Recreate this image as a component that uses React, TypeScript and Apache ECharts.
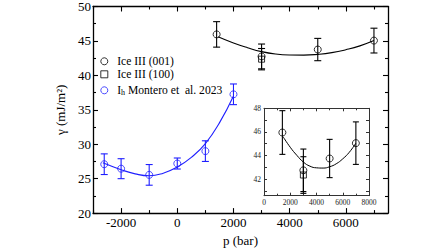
import React, { useEffect, useRef } from "react";
import * as echarts from "echarts";

// ---- data ----
const iceX = [1400, 3000, 5000, 7000];
const iceY = [45.95, 42.75, 43.75, 45.05];
const iceErr = [1.85, 1.8, 1.62, 1.8];

const ice100X = [3000];
const ice100Y = [42.35];
const ice100Err = [1.55];

const ihX = [-2600, -2000, -1000, 0, 1000, 2000];
const ihY = [27.1, 26.45, 25.55, 27.2, 29.0, 37.25];
const ihErr = [1.5, 1.45, 1.5, 0.8, 1.5, 1.5];

const iceFitX = [1450, 2000, 2500, 3000, 3500, 4000, 4500, 5000, 5500, 6000, 6500, 7000];
const iceFitY = [45.6, 44.7, 44.02, 43.45, 43.1, 42.96, 42.94, 43.05, 43.3, 43.72, 44.28, 45.05];

const ihFitX = [-2650, -2000, -1500, -1000, -500, 0, 500, 1000, 1500, 2000];
const ihFitY = [27.3, 26.3, 25.7, 25.42, 25.8, 26.7, 28.1, 30.1, 33.1, 37.0];

const mainXLabels = [-2000, 0, 2000, 4000, 6000];
const mainXMinor = [-3000, -1000, 1000, 3000, 5000, 7000];
const insetYLabels = [42, 44, 46, 48];
const insetYTicks = [41, 42, 43, 44, 45, 46, 47, 48];

const NAME_001 = "Ice III (001)";
const NAME_100 = "Ice III (100)";
const NAME_IH = "Ih Montero et  al. 2023";

const BLUE = "#1f1fff";
const FONT = "'Liberation Serif', 'Times New Roman', serif";
const CLEAR = "rgba(255,255,255,0)";

const pairs = (xs: number[], ys: number[]) => xs.map((x, i) => [x, ys[i]]);
const errs = (xs: number[], ys: number[], es: number[]) =>
  xs.map((x, i) => [x, ys[i] - es[i], ys[i] + es[i]]);
const plain = (v: number) => String(v);

function errorSeries(data: number[][], color: string, cap: number, xi: number, yi: number) {
  return {
    type: "custom",
    xAxisIndex: xi,
    yAxisIndex: yi,
    silent: true,
    z: 2,
    data,
    encode: { x: 0, y: [1, 2] },
    renderItem: (_p: any, api: any) => {
      const x = api.value(0);
      const lo = api.coord([x, api.value(1)]);
      const hi = api.coord([x, api.value(2)]);
      const st = { stroke: color, lineWidth: 1.1 };
      return {
        type: "group",
        children: [
          { type: "line", shape: { x1: lo[0], y1: lo[1], x2: hi[0], y2: hi[1] }, style: st },
          { type: "line", shape: { x1: lo[0] - cap, y1: lo[1], x2: lo[0] + cap, y2: lo[1] }, style: st },
          { type: "line", shape: { x1: hi[0] - cap, y1: hi[1], x2: hi[0] + cap, y2: hi[1] }, style: st },
        ],
      };
    },
  };
}

const hollow = (c: string, w = 1) => ({ color: CLEAR, borderColor: c, borderWidth: w });

export default function App() {
  const ref = useRef<HTMLDivElement>(null);
  useEffect(() => {
    if (!ref.current) return;
    const chart = echarts.init(ref.current, undefined, { renderer: "svg" });
    const axisLine = { show: true, onZero: false, lineStyle: { color: "#000", width: 1.3 } };
    const insetLine = { show: true, onZero: false, lineStyle: { color: "#333", width: 1 } };
    const noLabel = { show: false };
    const mainLabel = { color: "#000", fontFamily: FONT, fontSize: 13 };
    const insetLabel = { color: "#222", fontFamily: FONT, fontSize: 7.5 };
    const tk = { color: "#000", width: 1.1 };

    const option: any = {
      animation: false,
      textStyle: { fontFamily: FONT },
      grid: [
        { left: 93, top: 5, width: 295, height: 221 },
        { left: 264, top: 108.3, width: 105, height: 87.4, show: true, backgroundColor: "#fff", borderWidth: 0 },
      ],
      legend: {
        orient: "vertical",
        left: 100.3,
        top: 54.8,
        padding: 0,
        itemWidth: 7,
        itemHeight: 7,
        itemGap: 0,
        data: [
          { name: NAME_001, icon: "circle", itemStyle: hollow("#000", 1) },
          { name: NAME_100, icon: "rect", itemStyle: hollow("#000", 1) },
          { name: NAME_IH, icon: "circle", itemStyle: hollow(BLUE, 1) },
        ],
        textStyle: {
          fontFamily: FONT, fontSize: 11.6, color: "#000", lineHeight: 13, padding: [0, 0, 0, 4.4],
          rich: {
            n: { fontFamily: FONT, fontSize: 11.6, color: "#000", lineHeight: 13 },
            s: { fontFamily: FONT, fontSize: 8, color: "#000", lineHeight: 8, padding: [8, 0, 0, 0], verticalAlign: "bottom" },
          },
        },
        formatter: (name: string) =>
          name === NAME_IH ? "{n|I}{s|h}{n| Montero et  al. 2023}" : name,
      },
      xAxis: [
        {
          gridIndex: 0, type: "value", position: "bottom", min: -3000, max: 7500,
          axisLine,
          axisTick: { show: true, inside: true, length: 5, customValues: mainXLabels, lineStyle: tk },
          axisLabel: { ...mainLabel, margin: 3, customValues: mainXLabels, formatter: plain },
          splitLine: { show: false },
          name: "p (bar)", nameLocation: "middle", nameGap: 10,
          nameTextStyle: { ...mainLabel },
        },
        {
          gridIndex: 0, type: "value", position: "bottom", min: -3000, max: 7500,
          axisLine: { show: false, onZero: false },
          axisTick: { show: true, inside: true, length: 3, customValues: mainXMinor, lineStyle: tk },
          axisLabel: noLabel, splitLine: { show: false },
        },
        {
          gridIndex: 0, type: "value", position: "top", min: -3000, max: 7500,
          axisLine,
          axisTick: { show: true, inside: true, length: 5, customValues: mainXLabels, lineStyle: tk },
          axisLabel: noLabel, splitLine: { show: false },
        },
        {
          gridIndex: 0, type: "value", position: "top", min: -3000, max: 7500,
          axisLine: { show: false, onZero: false },
          axisTick: { show: true, inside: true, length: 3, customValues: mainXMinor, lineStyle: tk },
          axisLabel: noLabel, splitLine: { show: false },
        },
        {
          gridIndex: 1, type: "value", position: "bottom", min: 0, max: 8000, interval: 2000,
          axisLine: insetLine,
          axisTick: { show: true, inside: true, length: 3, lineStyle: { color: "#333" } },
          minorTick: { show: true, splitNumber: 2, length: 2, lineStyle: { color: "#333" } },
          axisLabel: { ...insetLabel, margin: 3, formatter: plain },
          splitLine: { show: false },
        },
        {
          gridIndex: 1, type: "value", position: "top", min: 0, max: 8000, interval: 2000,
          axisLine: insetLine,
          axisTick: { show: true, inside: true, length: 3, lineStyle: { color: "#333" } },
          minorTick: { show: true, splitNumber: 2, length: 2, lineStyle: { color: "#333" } },
          axisLabel: noLabel, splitLine: { show: false },
        },
      ],
      yAxis: [
        {
          gridIndex: 0, type: "value", position: "left", min: 20, max: 50, interval: 5,
          axisLine,
          axisTick: { show: true, inside: true, length: 5, lineStyle: tk },
          minorTick: { show: true, splitNumber: 2, length: 3, lineStyle: tk },
          axisLabel: { ...mainLabel, margin: 2, formatter: plain },
          splitLine: { show: false },
          name: "γ (mJ/m²)", nameLocation: "middle", nameGap: 18,
          nameTextStyle: { ...mainLabel },
        },
        {
          gridIndex: 0, type: "value", position: "right", min: 20, max: 50, interval: 5,
          axisLine,
          axisTick: { show: true, inside: true, length: 5, lineStyle: tk },
          minorTick: { show: true, splitNumber: 2, length: 3, lineStyle: tk },
          axisLabel: noLabel, splitLine: { show: false },
        },
        {
          gridIndex: 1, type: "value", position: "left", min: 40.6, max: 48,
          axisLine: insetLine,
          axisTick: { show: true, inside: true, length: 3, customValues: insetYTicks, lineStyle: { color: "#333" } },
          axisLabel: { ...insetLabel, margin: 3, customValues: insetYLabels, formatter: plain },
          splitLine: { show: false },
        },
        {
          gridIndex: 1, type: "value", position: "right", min: 40.6, max: 48,
          axisLine: insetLine,
          axisTick: { show: true, inside: true, length: 3, customValues: insetYTicks, lineStyle: { color: "#333" } },
          axisLabel: noLabel, splitLine: { show: false },
        },
      ],
      series: [
        {
          type: "line", xAxisIndex: 0, yAxisIndex: 0, data: pairs(iceFitX, iceFitY),
          smooth: true, showSymbol: false, silent: true, lineStyle: { color: "#000", width: 1.1 }, z: 1,
        },
        {
          type: "line", xAxisIndex: 0, yAxisIndex: 0, data: pairs(ihFitX, ihFitY),
          smooth: true, showSymbol: false, silent: true, lineStyle: { color: BLUE, width: 1.1 }, z: 1,
        },
        errorSeries(errs(iceX, iceY, iceErr), "#000", 3.5, 0, 0),
        errorSeries(errs(ice100X, ice100Y, ice100Err), "#000", 3.5, 0, 0),
        errorSeries(errs(ihX, ihY, ihErr), BLUE, 3.5, 0, 0),
        {
          name: NAME_001, type: "scatter", xAxisIndex: 0, yAxisIndex: 0, data: pairs(iceX, iceY),
          symbol: "circle", symbolSize: 7, itemStyle: hollow("#000"), z: 3,
        },
        {
          name: NAME_100, type: "scatter", xAxisIndex: 0, yAxisIndex: 0, data: pairs(ice100X, ice100Y),
          symbol: "rect", symbolSize: 6, itemStyle: hollow("#000"), z: 3,
        },
        {
          name: NAME_IH, type: "scatter", xAxisIndex: 0, yAxisIndex: 0, data: pairs(ihX, ihY),
          symbol: "circle", symbolSize: 7, itemStyle: hollow(BLUE), z: 3,
        },
        {
          type: "line", xAxisIndex: 4, yAxisIndex: 2, data: pairs(iceFitX, iceFitY),
          smooth: true, showSymbol: false, silent: true, lineStyle: { color: "#000", width: 1 }, z: 1,
        },
        errorSeries(errs(iceX, iceY, iceErr), "#000", 3, 4, 2),
        errorSeries(errs(ice100X, ice100Y, ice100Err), "#000", 3, 4, 2),
        {
          type: "scatter", xAxisIndex: 4, yAxisIndex: 2, data: pairs(iceX, iceY), silent: true,
          symbol: "circle", symbolSize: 7, itemStyle: hollow("#000"), z: 3,
        },
        {
          type: "scatter", xAxisIndex: 4, yAxisIndex: 2, data: pairs(ice100X, ice100Y), silent: true,
          symbol: "rect", symbolSize: 6, itemStyle: hollow("#000"), z: 3,
        },
      ],
    };
    chart.setOption(option);
    return () => chart.dispose();
  }, []);
  return <div ref={ref} style={{ width: 448, height: 252, position: "absolute", left: 0, top: 0 }} />;
}
